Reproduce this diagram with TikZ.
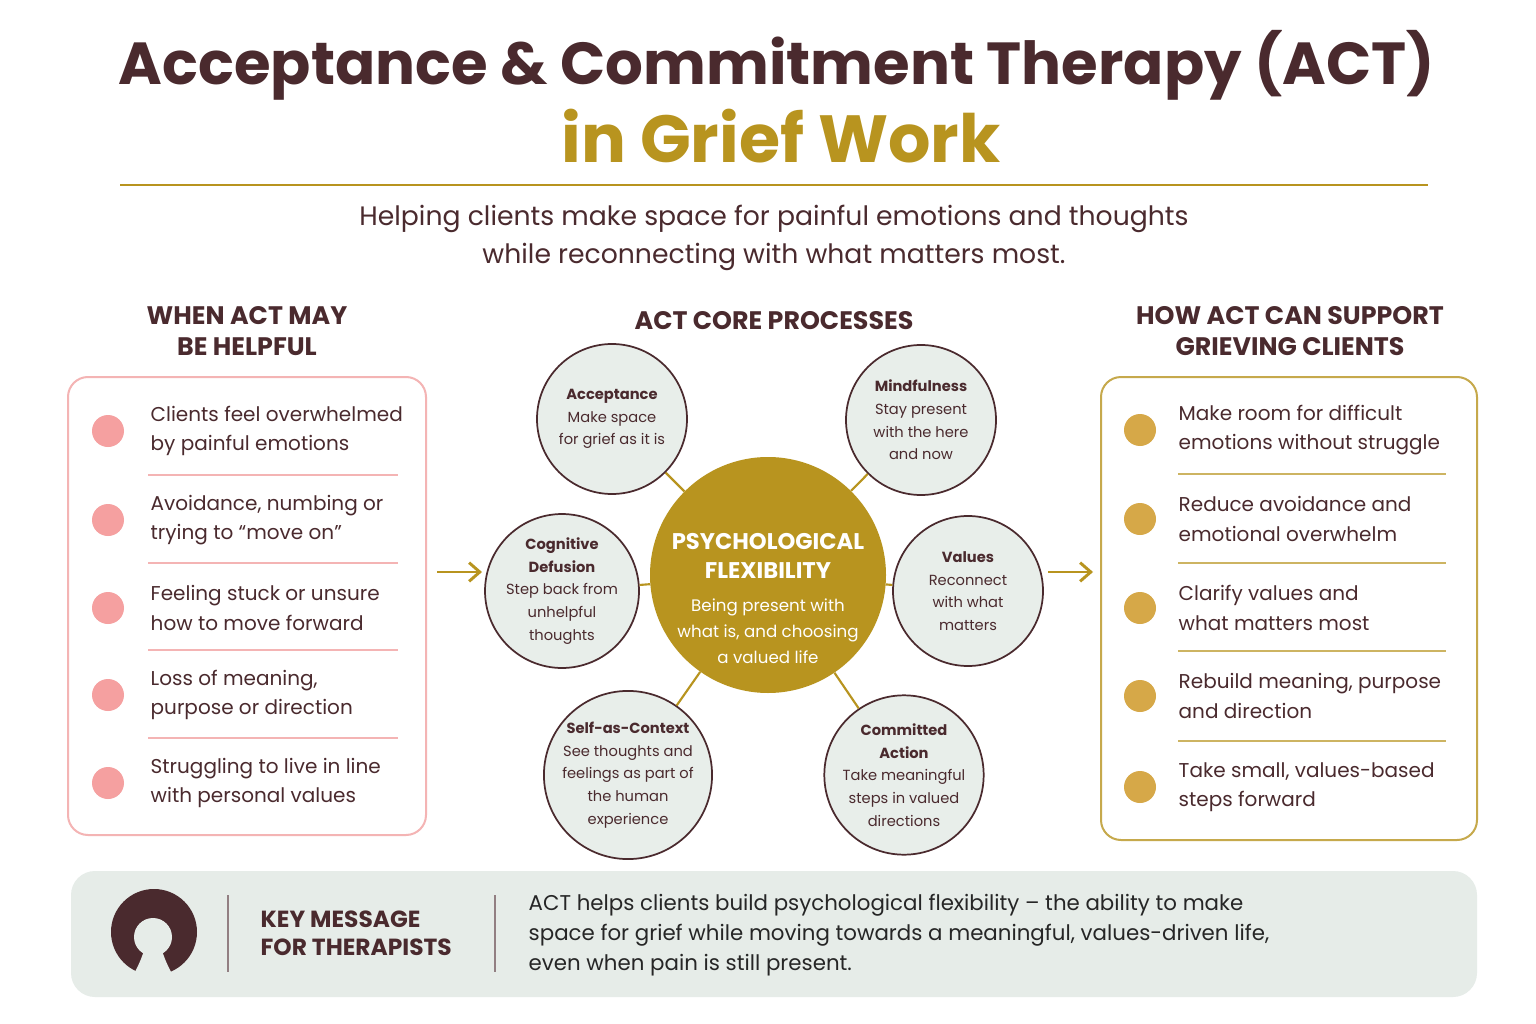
\documentclass[tikz,border=0pt]{standalone}
\usepackage{fontspec}
\setmainfont{Poppins}
\usetikzlibrary{arrows.meta}
\definecolor{brn}{RGB}{74,42,46}
\definecolor{gld}{RGB}{184,148,31}
\definecolor{pinkb}{RGB}{244,180,180}
\definecolor{pinkd}{RGB}{245,160,160}
\definecolor{cfill}{RGB}{232,238,234}
\definecolor{kfill}{RGB}{230,236,232}
\definecolor{gdot}{RGB}{214,168,72}
\tikzset{
 px/.style={x=0.75pt,y=-0.75pt},
 head/.style={font=\fontsize{19}{23.5}\selectfont\bfseries, text=brn, align=center},
 item/.style={font=\fontsize{15}{22}\selectfont, text=brn, align=left, anchor=west},
 proc/.style={circle, draw=brn, line width=1.3pt, fill=cfill, minimum size=112.5pt, inner sep=0pt, align=center, font=\fontsize{11}{17}\selectfont, text=brn},
 link/.style={gld, line width=1.6pt},
 pdot/.style={circle, fill=pinkd, minimum size=24pt, inner sep=0pt},
 gdotS/.style={circle, fill=gdot, minimum size=24pt, inner sep=0pt},
 sep/.style={line width=0.8pt},
 arr/.style={gld, line width=2.2pt, -{Straight Barb[length=8pt,width=14pt]}}
}
\begin{document}
\begin{tikzpicture}[px]
\useasboundingbox (0,0) rectangle (1536,1024);
\fill[white] (0,0) rectangle (1536,1024);
% title
\node[font=\fontsize{44.5}{52}\selectfont\bfseries, text=brn] (t1) at (777,65) {Acceptance \& Commitment Therapy (ACT)};
\node[font=\fontsize{50}{58}\selectfont\bfseries, text=gld] (t2) at (781,136) {in Grief Work};
\draw[gld, line width=1.5pt] (120,185) -- (1428,185);
\node[font=\fontsize{20}{28.5}\selectfont, text=brn, align=center] (sub) at (774,238) {Helping clients make space for painful emotions and thoughts\\while reconnecting with what matters most.};
% left
\node[head] (lh) at (247,331) {WHEN ACT MAY\\BE HELPFUL};
\draw[pinkb, line width=1.5pt, rounded corners=15pt, fill=white] (68,377) rectangle (426,835);
\foreach \y/\t [count=\i] in {431/{Clients feel overwhelmed\\by painful emotions},520/{Avoidance, numbing or\\trying to “move on”},608/{Feeling stuck or unsure\\how to move forward},695/{Loss of meaning,\\purpose or direction},783/{Struggling to live in line\\with personal values}}{
  \node[pdot] (ld\i) at (108,\y) {};
  \node[item] (lt\i) at (146,\y) {\t};
}
\foreach \y in {475,563,650,738}{\draw[pinkb,sep] (148,\y) -- (398,\y);}
% right
\node[head] (rh) at (1290,331) {HOW ACT CAN SUPPORT\\GRIEVING CLIENTS};
\draw[gld!80, line width=1.5pt, rounded corners=15pt, fill=white] (1101,377) rectangle (1477,840);
\foreach \y/\t [count=\i] in {430/{Make room for difficult\\emotions without struggle},519/{Reduce avoidance and\\emotional overwhelm},608/{Clarify values and\\what matters most},696/{Rebuild meaning, purpose\\and direction},787/{Take small, values-based\\steps forward}}{
  \node[gdotS] (rd\i) at (1140,\y) {};
  \node[item] (rt\i) at (1174,\y) {\t};
}
\foreach \y in {474,563,651,741}{\draw[gld!70,sep] (1178,\y) -- (1446,\y);}
% middle
\node[head] (mh) at (774,321) {ACT CORE PROCESSES};
\node[circle, fill=gld, minimum size=177pt, inner sep=0pt] (c) at (768,575) {};
\node[text=white, align=center, font=\fontsize{17}{22}\selectfont\bfseries] (ct) at (768,556) {PSYCHOLOGICAL\\FLEXIBILITY};
\node[text=white, align=center, font=\fontsize{12.5}{19.5}\selectfont] (cs) at (768,631) {Being present with\\what is, and choosing\\a valued life};
\node[proc] (a) at (612,419) {\textbf{Acceptance}\\Make space\\for grief as it is};
\node[proc] (m) at (921,420) {\textbf{Mindfulness}\\Stay present\\with the here\\and now};
\node[proc] (d) at (562,591) {\textbf{Cognitive}\\\textbf{Defusion}\\Step back from\\unhelpful\\thoughts};
\node[proc] (v) at (968,591) {\textbf{Values}\\Reconnect\\with what\\matters};
\node[proc] (s) at (628,775) {\textbf{Self-as-Context}\\See thoughts and\\feelings as part of\\the human\\experience};
\node[proc] (ca) at (904,775) {\textbf{Committed}\\\textbf{Action}\\Take meaningful\\steps in valued\\directions};
\foreach \n in {a,m,d,v,s,ca}{\draw[link] (c) -- (\n);}
\coordinate (la1) at (437,572); \coordinate (la2) at (482,572);
\coordinate (ra1) at (1048,572); \coordinate (ra2) at (1093,572);
\draw[arr] (la1) -- (la2);
\draw[arr] (ra1) -- (ra2);
% bottom
\fill[kfill, rounded corners=18pt] (71,871) rectangle (1477,997);
\fill[brn] (154,932) circle (43);
\fill[kfill] (153,937) circle (19);
\fill[kfill] (145,948) -- (161,948) .. controls (166,962) .. (174,978) -- (132,978) .. controls (140,962) .. (145,948) -- cycle;
\draw[brn!60, line width=1pt] (228,895) -- (228,972);
\draw[brn!60, line width=1pt] (495,895) -- (495,972);
\node[font=\fontsize{17.5}{21}\selectfont\bfseries, text=brn, align=left, anchor=west] (km) at (256,933) {KEY MESSAGE\\FOR THERAPISTS};
\node[font=\fontsize{16}{22.5}\selectfont, text=black!85, align=left, anchor=west] (msg) at (524,935) {ACT helps clients build psychological flexibility – the ability to make\\space for grief while moving towards a meaningful, values-driven life,\\even when pain is still present.};
\end{tikzpicture}
\end{document}
